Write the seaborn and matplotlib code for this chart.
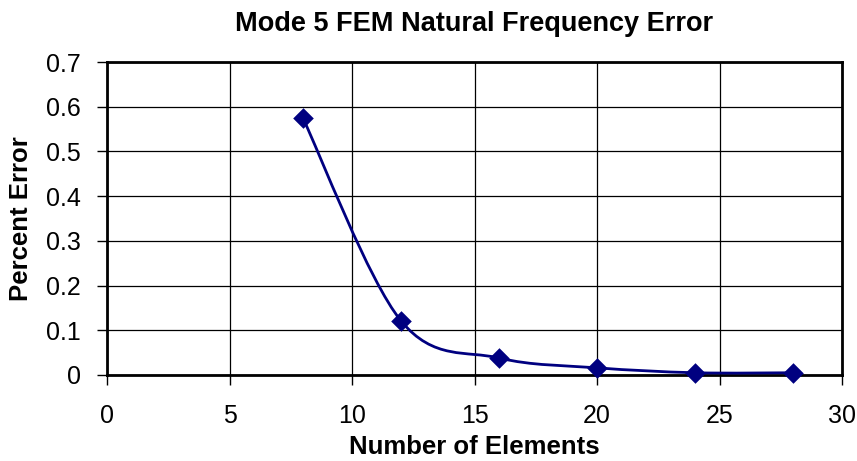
import numpy as np
import pandas as pd
import matplotlib
matplotlib.use("Agg")
import matplotlib.pyplot as plt
import seaborn as sns
from matplotlib.path import Path
from matplotlib.patches import PathPatch

# values
elements = [8, 12, 16, 20, 24, 28]
pct_error = [0.574, 0.121, 0.038, 0.016, 0.005, 0.005]

df = pd.DataFrame({"Elements": elements, "Error": pct_error})

sns.set_style("white")
plt.rcParams['font.family'] = ['Liberation Sans', 'DejaVu Sans']
plt.rcParams['text.color'] = 'black'
plt.rcParams['axes.labelcolor'] = 'black'
plt.rcParams['xtick.color'] = 'black'
plt.rcParams['ytick.color'] = 'black'

fig = plt.figure(figsize=(8.57, 4.61), dpi=100)
ax = fig.add_axes([0.1249, 0.1866, 0.8576, 0.6789])

navy = "#000080"

# Excel style smoothed line: cubic bezier segments through the points
pts = df[["Elements", "Error"]].to_numpy(dtype=float)
verts = [pts[0]]
codes = [Path.MOVETO]
n = len(pts)
for i in range(n - 1):
    p0 = pts[i - 1] if i > 0 else pts[i]
    p1 = pts[i]
    p2 = pts[i + 1]
    p3 = pts[i + 2] if i + 2 < n else pts[i + 1]
    c1 = p1 + (p2 - p0) / 6.0
    c2 = p2 - (p3 - p1) / 6.0
    verts += [c1, c2, p2]
    codes += [Path.CURVE4] * 3
ax.add_patch(PathPatch(Path(verts, codes), facecolor="none", edgecolor=navy, lw=2, zorder=3))

sns.scatterplot(data=df, x="Elements", y="Error", marker="D", s=110, color=navy,
                edgecolor=navy, linewidth=0, ax=ax, zorder=4, clip_on=False)

ax.set_xlim(0, 30)
ax.set_ylim(0, 0.7)
ax.set_xticks([0, 5, 10, 15, 20, 25, 30])
ax.set_yticks(np.arange(0, 0.71, 0.1))
ax.set_yticklabels(["0", "0.1", "0.2", "0.3", "0.4", "0.5", "0.6", "0.7"])
ax.grid(True, color="black", lw=0.9)
ax.set_axisbelow(True)
for s in ax.spines.values():
    s.set_color("black")
    s.set_linewidth(2)
ax.tick_params(axis="both", which="both", direction="out", length=7, width=1,
               color="black", labelsize=18, left=True, bottom=True)
ax.tick_params(axis="x", pad=14)
ax.tick_params(axis="y", pad=12)

ax.set_xlabel("Number of Elements", fontsize=18.5, fontweight="bold", labelpad=5)
ax.set_ylabel("Percent Error", fontsize=18.5, fontweight="bold", labelpad=9)
ax.set_title("Mode 5 FEM Natural Frequency Error", fontsize=19.5, fontweight="bold", pad=22)

fig.savefig("out.png", dpi=100)
